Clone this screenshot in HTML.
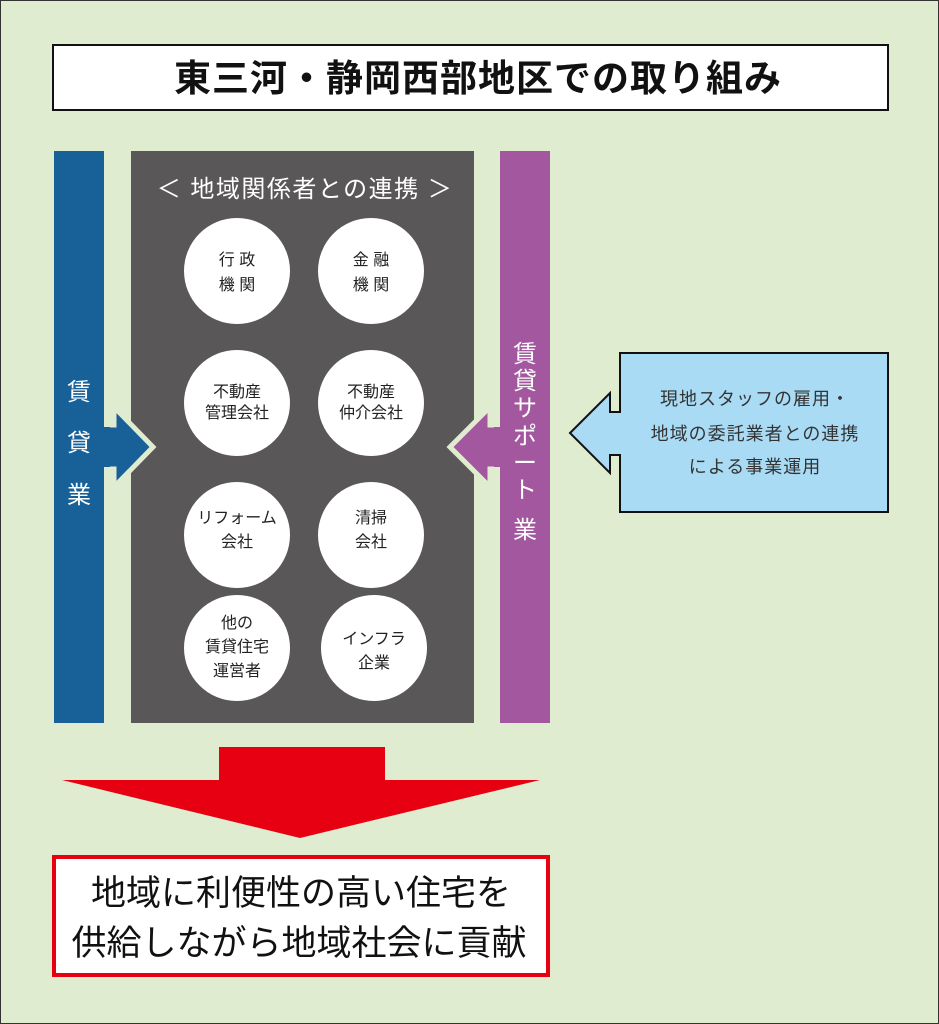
<!DOCTYPE html>
<html><head><meta charset="utf-8"><style>
body{margin:0;background:#e0ecd0;}
svg{display:block;font-family:"Liberation Sans","Noto Sans CJK JP",sans-serif;}
</style></head><body>
<svg width="939" height="1024" viewBox="0 0 939 1024">
<rect x="0.5" y="0.5" width="938" height="1023" fill="#e0ecd0" stroke="#333" stroke-width="1"/>
<rect x="53" y="45" width="835" height="65" fill="#fff" stroke="#111" stroke-width="2"/>
<text x="478" y="91" font-size="37" font-weight="bold" text-anchor="middle" fill="#111" letter-spacing="1">東三河・静岡西部地区での取り組み</text>

<rect x="131" y="151" width="343" height="572" fill="#595757"/>

<polygon points="90,425 114,425 114,407 153,447 114,487 114,469 90,469" fill="#186198" stroke="#e0ecd0" stroke-width="5" stroke-linejoin="miter"/>
<polygon points="514,425 490,425 490,407 450,447 490,487 490,469 514,469" fill="#a2579e" stroke="#e0ecd0" stroke-width="5"/>
<rect x="54" y="151" width="50" height="572" fill="#186198"/>
<rect x="500" y="151" width="50" height="572" fill="#a2579e"/>
<rect x="100" y="427" width="10" height="40" fill="#186198"/>
<rect x="494" y="427" width="10" height="40" fill="#a2579e"/>

<g fill="#fff" font-size="24" text-anchor="middle">
<text x="79" y="400">賃</text><text x="79" y="451">貸</text><text x="79" y="503">業</text>
<text x="525" y="362">賃</text><text x="525" y="389">貸</text><text x="525" y="416">サ</text><text x="525" y="444">ポ</text><text x="525" y="471">ー</text><text x="525" y="498">ト</text><text x="525" y="538">業</text>
<text x="305" y="197" font-size="24" letter-spacing="1.5">＜ 地域関係者との連携 ＞</text>
</g>

<g fill="#fff">
<circle cx="237" cy="271" r="53"/><circle cx="371" cy="271" r="53"/>
<circle cx="237" cy="403" r="53"/><circle cx="371" cy="403" r="53"/>
<circle cx="237" cy="535" r="53"/><circle cx="371" cy="535" r="53"/>
<circle cx="237" cy="648" r="53"/><circle cx="374" cy="648" r="53"/>
</g>
<g fill="#222" font-size="16" text-anchor="middle">
<text x="237" y="265">行 政</text><text x="237" y="290">機 関</text>
<text x="371" y="265">金 融</text><text x="371" y="290">機 関</text>
<text x="237" y="397">不動産</text><text x="237" y="418">管理会社</text>
<text x="371" y="397">不動産</text><text x="371" y="418">仲介会社</text>
<text x="237" y="523">リフォーム</text><text x="237" y="547">会社</text>
<text x="371" y="523">清掃</text><text x="371" y="547">会社</text>
<text x="237" y="628">他の</text><text x="237" y="652">賃貸住宅</text><text x="237" y="676">運営者</text>
<text x="374" y="644">インフラ</text><text x="374" y="668">企業</text>
</g>

<polygon points="620,353 888,353 888,512 620,512 620,455 610,455 610,473 570,433 610,393 610,412 620,412" fill="#a9dbf5" stroke="#111" stroke-width="2"/>
<g fill="#333" font-size="18" text-anchor="middle" letter-spacing="1">
<text x="755" y="405">現地スタッフの雇用・</text>
<text x="755" y="440">地域の委託業者との連携</text>
<text x="755" y="473">による事業運用</text>
</g>

<polygon points="219,747 385,747 385,780 540,780 300,838 62,780 219,780" fill="#e60012"/>
<rect x="54" y="857" width="494" height="118" fill="#fff" stroke="#e60012" stroke-width="4"/>
<g fill="#111" font-size="35" text-anchor="middle">
<text x="301" y="905">地域に利便性の高い住宅を</text>
<text x="299" y="955">供給しながら地域社会に貢献</text>
</g>
</svg>
</body></html>
